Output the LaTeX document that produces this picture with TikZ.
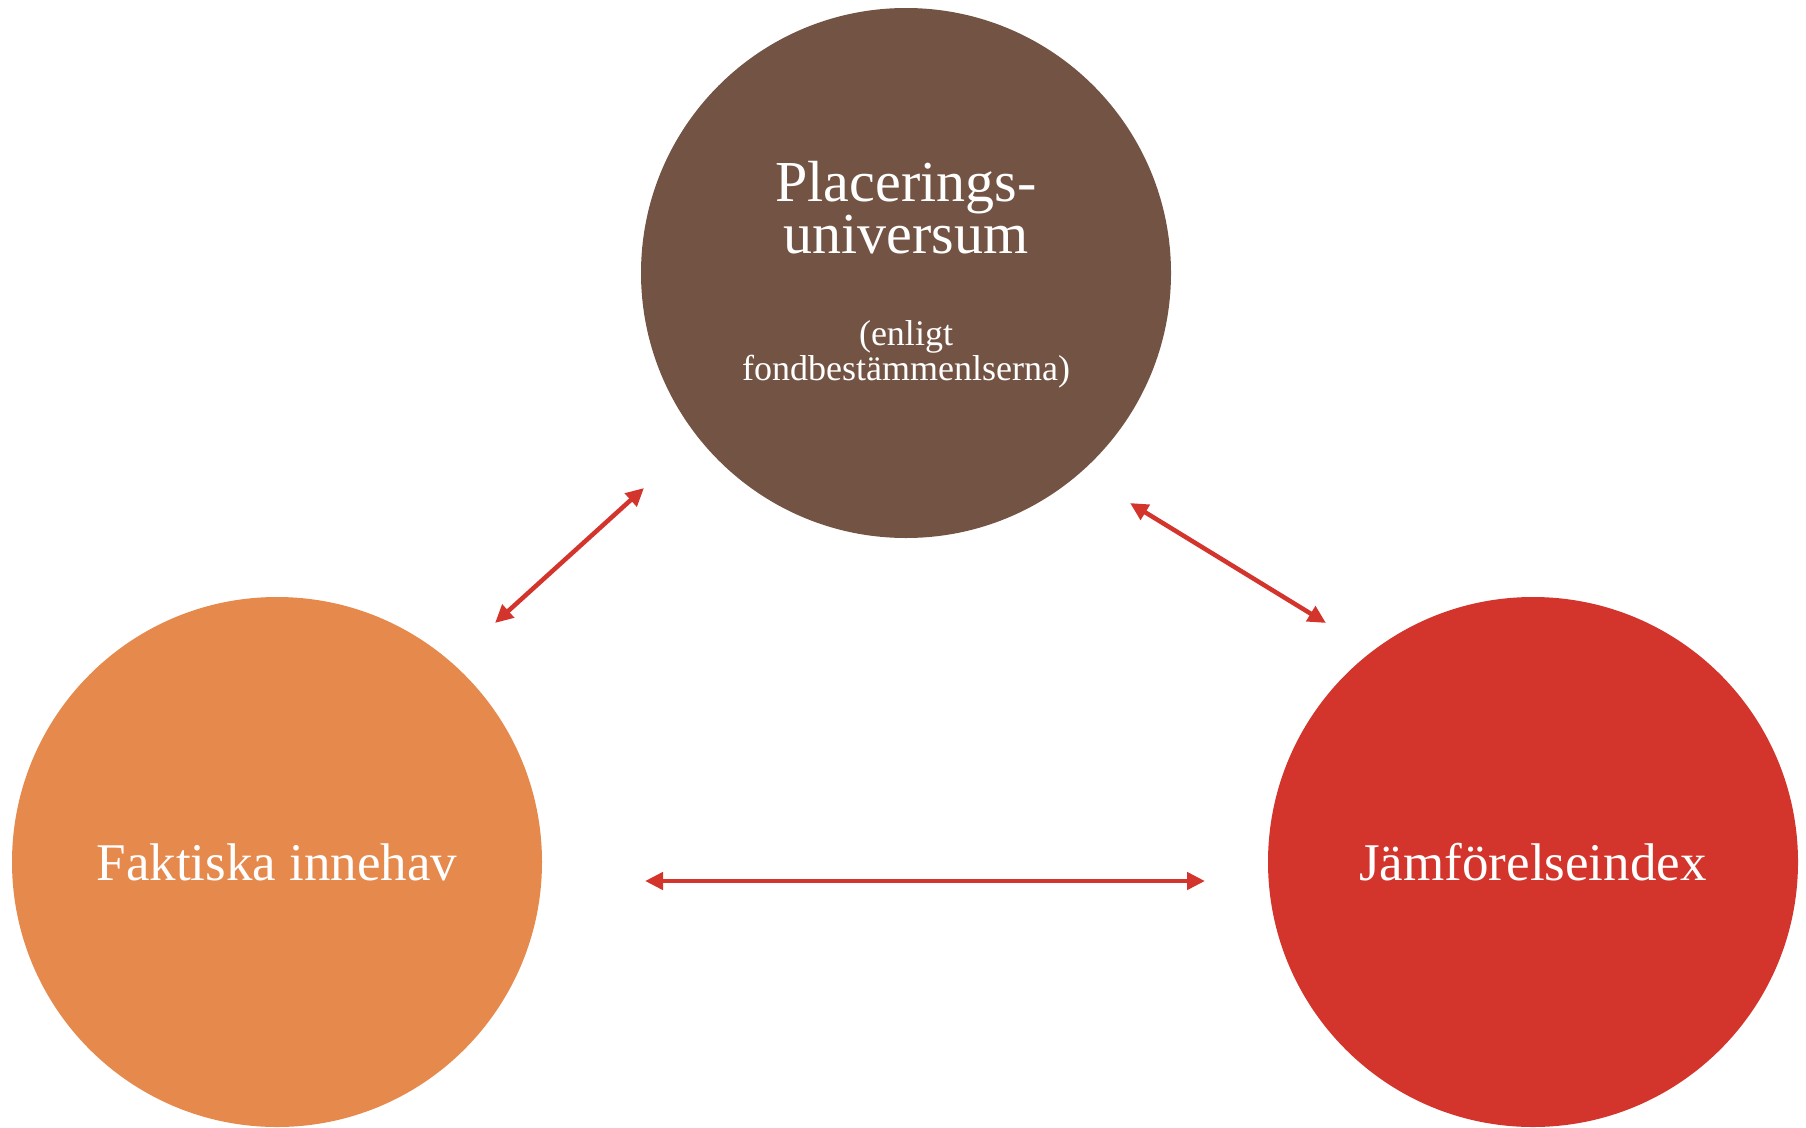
\documentclass[tikz,border=0pt]{standalone}
\usepackage{fontspec}
\setmainfont{Liberation Serif}
\usetikzlibrary{arrows.meta,positioning,calc}
\definecolor{placbrown}{HTML}{735444}
\definecolor{faktorange}{HTML}{E6894D}
\definecolor{indexred}{HTML}{D3352C}

\begin{document}
\begin{tikzpicture}[x=1pt, y=-1pt]
  \tikzstyle{bubble} = [circle, minimum size=530pt, inner sep=0pt, text=white,
  font=\fontsize{53}{60}\selectfont]
  \tikzstyle{arrow} = [line width=4.5pt, indexred,
  {Triangle[length=18pt,width=17pt]}-{Triangle[length=18pt,width=17pt]}]
  \useasboundingbox (0,0) rectangle (1806,1127);

  \node [bubble, fill=placbrown] (plac) at (906,273) {};
  \node [bubble, fill=faktorange] (fakt) at (277,862) {Faktiska innehav};
  \node [bubble, fill=indexred] (index) at (1533,862) {Jämförelseindex};

  % base anchor sits on the last line
  \node [text=white, align=center, anchor=base, font=\fontsize{58}{50}\selectfont]
  (title) at ($(plac.center)+(0,-20)$) {Placerings-\\universum};
  \node [text=white, align=center, anchor=base, font=\fontsize{36}{32}\selectfont]
  (note) at ($(plac.center)+(0,107)$) {(enligt\\fondbestämmenlserna)};

  \coordinate (a1) at (495,623);
  \coordinate (b1) at (644,488);
  \coordinate (a2) at (1130,503);
  \coordinate (b2) at (1326,623);
  \coordinate (a3) at (645,881);
  \coordinate (b3) at (1205,881);

  \draw [arrow] (a1) -- (b1);
  \draw [arrow] (a2) -- (b2);
  \draw [arrow] (a3) -- (b3);
\end{tikzpicture}
\end{document}
